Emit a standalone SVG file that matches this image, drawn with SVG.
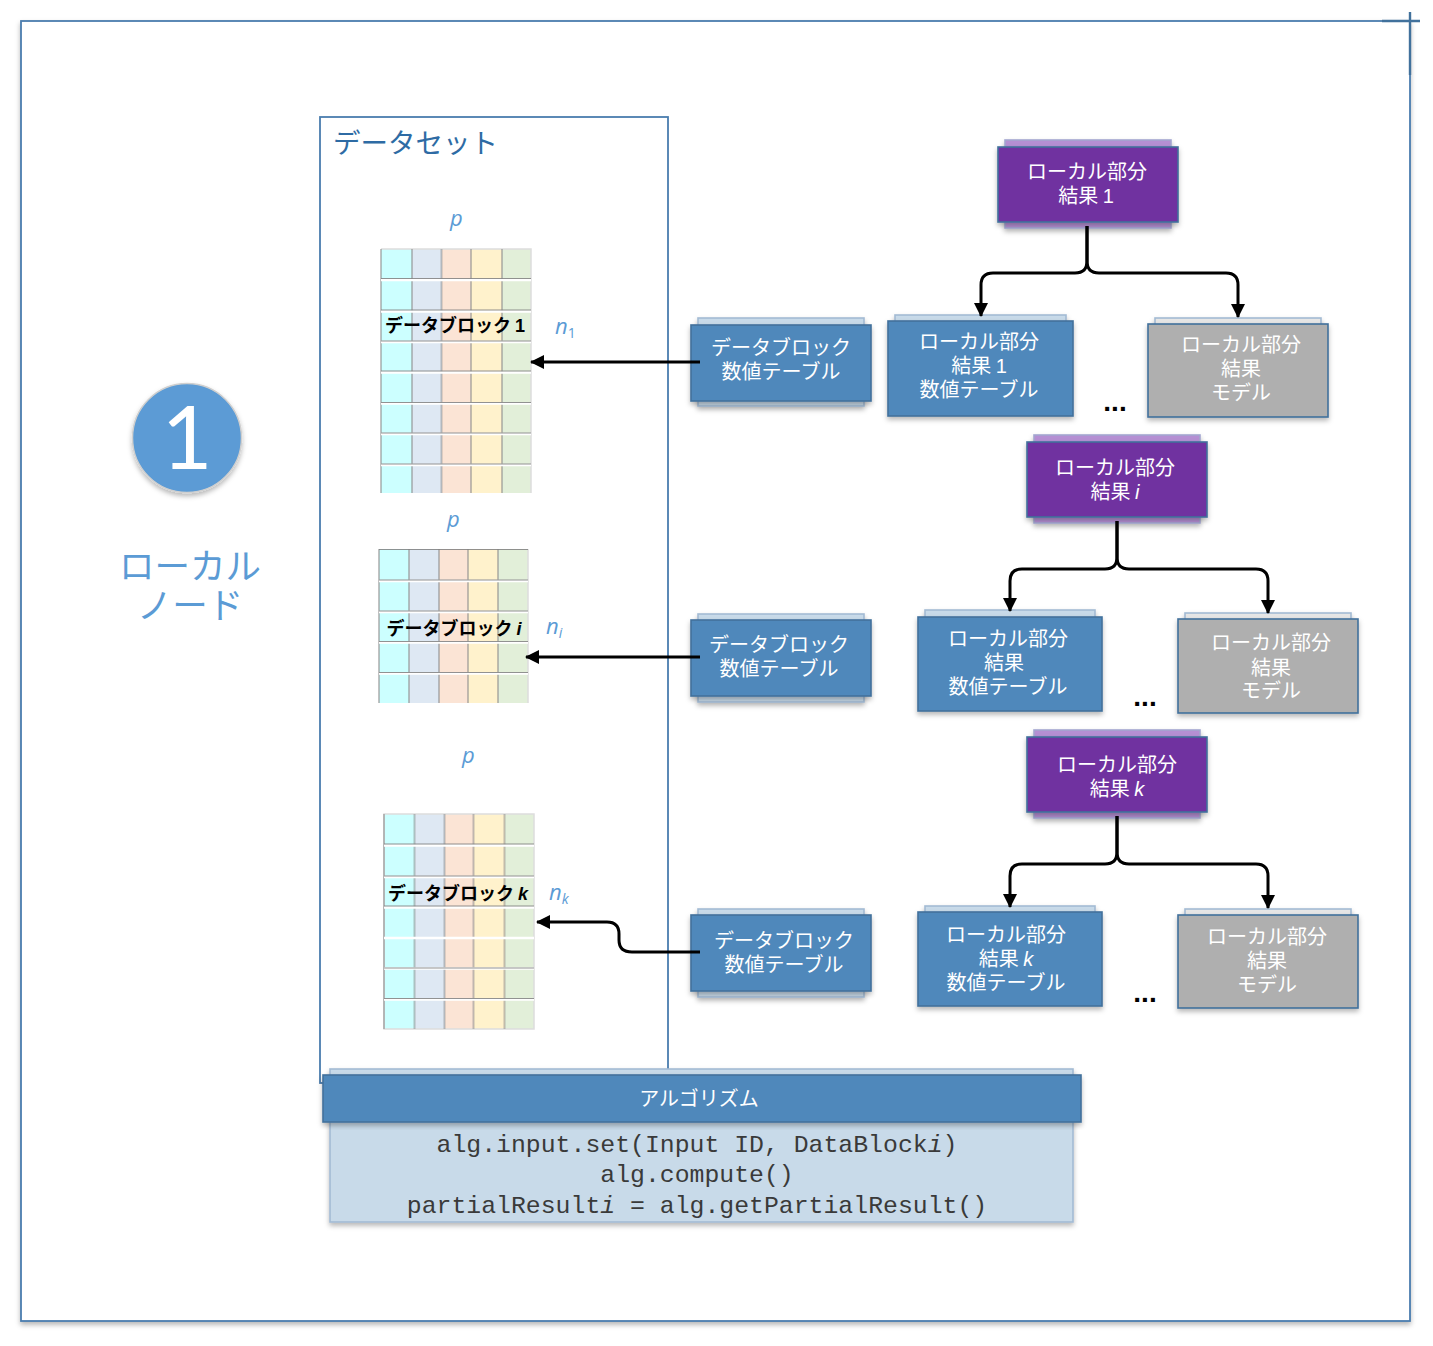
<svg xmlns="http://www.w3.org/2000/svg" width="1433" height="1346" viewBox="0 0 1433 1346">
<style>
text{font-family:"Noto Sans CJK JP","Liberation Sans",sans-serif}
.w{fill:#fff;font-size:20px;text-anchor:middle}
.lat{font-family:"Liberation Sans","Noto Sans CJK JP",sans-serif}
.lb{fill:#5B9BD5;font-size:22px;font-style:italic;font-family:"Open Sans",sans-serif}
.sub{font-size:14px}
.tl{fill:#000;font-size:18px;font-weight:700;text-anchor:middle}
.code{font-family:"Liberation Mono",monospace;font-size:24.8px;fill:#3a3a3a;text-anchor:middle}
.dots{font-family:"Liberation Sans",sans-serif;font-size:28px;font-weight:700;fill:#000;text-anchor:middle}
.bf{fill:#4F88BB;stroke:#41719C;stroke-width:1.6}
.bb{fill:#C8DAE9;stroke:#A3BBD4;stroke-width:1.6}
.pf{fill:#7030A0;stroke:#41719C;stroke-width:1.6}
.pb{fill:#B58FD3;stroke:#A3A6D0;stroke-width:1.6}
.gf{fill:#AFAFAF;stroke:#41719C;stroke-width:1.6}
.gb{fill:#E6E6E6;stroke:#A3BBD4;stroke-width:1.6}
.frame{fill:#fff;stroke:#4A7DAE;stroke-width:1.800}
.s{filter:url(#sh)}
.conn{fill:none;stroke:#000;stroke-width:3;stroke-linejoin:round}
.c1{fill:#CCFFFF}.c2{fill:#DEE8F3}.c3{fill:#FBE4D5}.c4{fill:#FFF2CC}.c5{fill:#E2EFD9}
.gw{stroke:#fff;stroke-width:2.500;fill:none}
.gv{stroke:#8E8E8E;stroke-width:2;fill:none;stroke-opacity:.55}
.gg{stroke:#7F7F7F;stroke-width:1.200;fill:none;stroke-opacity:.85}
.edge{fill:none;stroke:#DDD;stroke-width:1.500}
</style>
<defs>
<filter id="sh" x="-10%" y="-10%" width="120%" height="125%"><feDropShadow dx="0" dy="3" stdDeviation="2.5" flood-color="#000" flood-opacity=".28"/></filter>
<marker id="ah" viewBox="0 0 14 14" refX="13" refY="7" markerWidth="14" markerHeight="14" markerUnits="userSpaceOnUse" orient="auto"><path d="M0 0L14 7L0 14Z" fill="#000"/></marker>
</defs>
<rect width="1433" height="1346" fill="#fff"/>
<g id="outer-frame">
<rect class="frame s" x="21" y="21" width="1389" height="1300"/>
<path d="M1382 21H1420M1410 12V75" fill="none" stroke="#41719C" stroke-width="2.400"/>
</g>
<g id="node-badge">
<circle class="s" cx="187" cy="438" r="54.500" fill="#5B9BD5" stroke="#CFCFCF" stroke-width="1.500"/>
<text x="187" y="469" font-size="88" font-weight="400" fill="#fff" text-anchor="middle" style="font-family:Lato,sans-serif">1</text>
</g>
<g id="node-label">
<text font-size="35.500" fill="#5B9BD5" text-anchor="middle"><tspan x="190" y="579">ローカル</tspan><tspan x="190" y="618">ノード</tspan></text>
</g>
<g id="dataset">
<rect class="frame" x="320" y="117" width="348" height="966"/>
<text x="333" y="153" font-size="27.500" fill="#2E6BA4">データセット</text>
</g>
<g id="table-1">
<rect class="c1" x="381" y="249" width="31" height="244"/><rect class="c2" x="412" y="249" width="30" height="244"/><rect class="c3" x="442" y="249" width="29" height="244"/><rect class="c4" x="471" y="249" width="31" height="244"/><rect class="c5" x="502" y="249" width="29" height="244"/>
<path class="edge" d="M381 249H531V493"/>
<path class="gv" d="M381 249V493M412 249V493M441.500 249V493M471 249V493M502 249V493"/>
<path class="gw" d="M381 280H531M381 311.500H531M381 342H531M381 372.500H531M381 403.500H531M381 434H531M381 465H531"/>
<path class="gg" d="M381 278.500H531M381 310H531M381 341H531M381 371H531M381 402.500H531M381 433H531M381 464H531"/>
<text class="tl" x="455" y="332">データブロック <tspan class="lat">1</tspan></text>
<text class="lb" x="450" y="226">p</text>
<text class="lb" x="555" y="334">n<tspan class="sub" font-style="normal" dy="4">1</tspan></text>
</g>
<g id="table-i">
<rect class="c1" x="379" y="549" width="30" height="154"/><rect class="c2" x="409" y="549" width="30" height="154"/><rect class="c3" x="439" y="549" width="29" height="154"/><rect class="c4" x="468" y="549" width="30" height="154"/><rect class="c5" x="498" y="549" width="30" height="154"/>
<path class="edge" d="M528 549V703"/>
<path class="gv" d="M379 549V703M409 549V703M439 549V703M468 549V703M498 549V703"/>
<path class="gw" d="M379 581H528M379 612H528M379 642.500H528M379 673.500H528"/>
<path class="gg" d="M379 549.500H528M379 580H528M379 611H528M379 641.500H528M379 672.500H528"/>
<text class="tl" x="454" y="635">データブロック <tspan class="lat" font-style="italic">i</tspan></text>
<text class="lb" x="447" y="527">p</text>
<text class="lb" x="546" y="634">n<tspan class="sub" dy="4">i</tspan></text>
</g>
<g id="table-k">
<rect class="c1" x="384" y="814" width="31" height="215"/><rect class="c2" x="415" y="814" width="30" height="215"/><rect class="c3" x="445" y="814" width="29" height="215"/><rect class="c4" x="474" y="814" width="31" height="215"/><rect class="c5" x="505" y="814" width="29" height="215"/>
<path class="edge" d="M384 814H534V1029H384Z"/>
<path class="gv" d="M384 814V1029M414.500 814V1029M444.500 814V1029M473.500 814V1029M504.500 814V1029"/>
<path class="gw" d="M384 845.500H534M384 877H534M384 907.500H534M384 938H534M384 968.500H534M384 999.500H534"/>
<path class="gg" d="M384 844H534M384 876H534M384 906H534M384 968H534M384 998.500H534"/>
<text class="tl" x="458" y="900">データブロック <tspan class="lat" font-style="italic">k</tspan></text>
<text class="lb" x="462" y="763">p</text>
<text class="lb" x="549" y="900">n<tspan class="sub" dy="4">k</tspan></text>
</g>
<g id="db-1">
<rect class="bb s" x="698" y="318" width="166" height="88"/><rect class="bf s" x="691" y="325" width="180" height="76"/>
<text class="w"><tspan x="781" y="355">データブロック</tspan><tspan x="781" y="379">数値テーブル</tspan></text>
</g>
<g id="db-i">
<rect class="bb s" x="698" y="614" width="166" height="88"/><rect class="bf s" x="691" y="620" width="180" height="76"/>
<text class="w"><tspan x="779" y="652">データブロック</tspan><tspan x="779" y="676">数値テーブル</tspan></text>
</g>
<g id="db-k">
<rect class="bb s" x="698" y="909" width="166" height="88"/><rect class="bf s" x="691" y="915" width="180" height="76"/>
<text class="w"><tspan x="784" y="948">データブロック</tspan><tspan x="784" y="972">数値テーブル</tspan></text>
</g>
<g id="result-1">
<rect class="pb s" x="1005" y="140" width="166" height="88"/><rect class="pf s" x="998" y="147" width="180" height="75"/>
<text class="w"><tspan x="1087" y="179">ローカル部分</tspan><tspan x="1086" y="203">結果 <tspan class="lat">1</tspan></tspan></text>
</g>
<g id="part-1">
<rect class="bb s" x="895" y="315" width="171" height="60"/><rect class="bf s" x="888" y="321" width="185" height="95"/>
<text class="w"><tspan x="979" y="349">ローカル部分</tspan><tspan x="979" y="373">結果 <tspan class="lat">1</tspan></tspan><tspan x="979" y="397">数値テーブル</tspan></text>
</g>
<g id="model-1">
<rect class="gb s" x="1155" y="318" width="166" height="50"/><rect class="gf s" x="1148" y="324" width="180" height="93"/>
<text class="w"><tspan x="1241" y="352">ローカル部分</tspan><tspan x="1241" y="376">結果</tspan><tspan x="1241" y="400">モデル</tspan></text>
</g>
<g id="result-i">
<rect class="pb s" x="1034" y="435" width="166" height="88"/><rect class="pf s" x="1027" y="442" width="180" height="75"/>
<text class="w"><tspan x="1115" y="475">ローカル部分</tspan><tspan x="1115" y="499">結果 <tspan class="lat" font-style="italic">i</tspan></tspan></text>
</g>
<g id="part-i">
<rect class="bb s" x="925" y="610" width="170" height="60"/><rect class="bf s" x="918" y="617" width="184" height="94"/>
<text class="w"><tspan x="1008" y="646">ローカル部分</tspan><tspan x="1004" y="670">結果</tspan><tspan x="1008" y="694">数値テーブル</tspan></text>
</g>
<g id="model-i">
<rect class="gb s" x="1185" y="613" width="166" height="50"/><rect class="gf s" x="1178" y="619" width="180" height="94"/>
<text class="w"><tspan x="1271" y="650">ローカル部分</tspan><tspan x="1271" y="675">結果</tspan><tspan x="1271" y="698">モデル</tspan></text>
</g>
<g id="result-k">
<rect class="pb s" x="1034" y="730" width="166" height="88"/><rect class="pf s" x="1027" y="737" width="180" height="75"/>
<text class="w"><tspan x="1117" y="772">ローカル部分</tspan><tspan x="1117" y="796">結果 <tspan class="lat" font-style="italic">k</tspan></tspan></text>
</g>
<g id="part-k">
<rect class="bb s" x="925" y="906" width="170" height="60"/><rect class="bf s" x="918" y="912" width="184" height="94"/>
<text class="w"><tspan x="1006" y="942">ローカル部分</tspan><tspan x="1006" y="966">結果 <tspan class="lat" font-style="italic">k</tspan></tspan><tspan x="1006" y="990">数値テーブル</tspan></text>
</g>
<g id="model-k">
<rect class="gb s" x="1185" y="909" width="166" height="50"/><rect class="gf s" x="1178" y="915" width="180" height="93"/>
<text class="w"><tspan x="1267" y="944">ローカル部分</tspan><tspan x="1267" y="968">結果</tspan><tspan x="1267" y="992">モデル</tspan></text>
</g>
<g id="ellipses">
<text class="dots" x="1115" y="411">...</text><text class="dots" x="1145" y="706">...</text><text class="dots" x="1145" y="1002">...</text>
</g>
<g id="algorithm">
<rect class="bb s" x="330" y="1069" width="743" height="153"/>
<rect class="bf s" x="323" y="1075" width="758" height="47"/>
<text class="w" x="699" y="1106">アルゴリズム</text>
<text class="code"><tspan x="697" y="1152">alg.input.set(Input ID, DataBlock<tspan font-style="italic">i</tspan>)</tspan><tspan x="697" y="1182">alg.compute()</tspan><tspan x="697" y="1213">partialResult<tspan font-style="italic">i</tspan> = alg.getPartialResult()</tspan></text>
</g>
<g id="connectors">
<path class="conn" marker-end="url(#ah)" d="M1087 226V261Q1087 273 1075 273H993Q981 273 981 285V316"/>
<path class="conn" marker-end="url(#ah)" d="M1087 226V261Q1087 273 1099 273H1226Q1238 273 1238 285V317"/>
<path class="conn" marker-end="url(#ah)" d="M1117 521V557Q1117 569 1105 569H1022Q1010 569 1010 581V611"/>
<path class="conn" marker-end="url(#ah)" d="M1117 521V557Q1117 569 1129 569H1256Q1268 569 1268 581V613"/>
<path class="conn" marker-end="url(#ah)" d="M1117 816V852Q1117 864 1105 864H1022Q1010 864 1010 876V907"/>
<path class="conn" marker-end="url(#ah)" d="M1117 816V852Q1117 864 1129 864H1256Q1268 864 1268 876V908"/>
<path class="conn" marker-end="url(#ah)" d="M700 362H531"/>
<path class="conn" marker-end="url(#ah)" d="M700 657H526"/>
<path class="conn" marker-end="url(#ah)" d="M700 952H632Q619 952 619 940V934Q619 922 607 922H537"/>
</g>
</svg>
